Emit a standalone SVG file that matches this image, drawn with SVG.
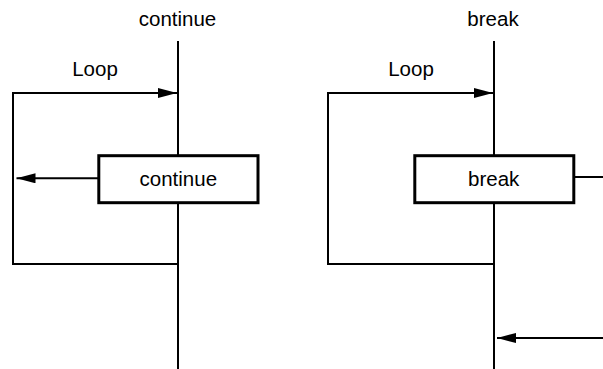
<svg xmlns="http://www.w3.org/2000/svg" width="603" height="369" viewBox="0 0 603 369">
<style>
.ln{stroke:#000;stroke-width:2;fill:none}
.box{stroke:#000;stroke-width:3;fill:#fff}
.t{font-family:"Liberation Sans",Arial,sans-serif;font-size:20.5px;fill:#000;text-anchor:middle}
</style>
<defs>
<marker id="ah" markerUnits="userSpaceOnUse" markerWidth="20" markerHeight="10" refX="19" refY="5" orient="auto">
<path d="M0,0 L19,5 L0,10 z" fill="#000"/>
</marker>
</defs>
<rect width="603" height="369" fill="#fff"/>
<g id="connectors">
<line class="ln" x1="178" y1="41" x2="178" y2="155"/>
<line class="ln" x1="178" y1="203" x2="178" y2="369"/>
<polyline class="ln" points="178,264 13,264 13,93 177,93" marker-end="url(#ah)"/>
<line class="ln" x1="100" y1="178.3" x2="16.5" y2="178.3" marker-end="url(#ah)"/>
<line class="ln" x1="494" y1="41" x2="494" y2="155"/>
<line class="ln" x1="494" y1="203" x2="494" y2="369"/>
<polyline class="ln" points="494,264 328,264 328,93 493,93" marker-end="url(#ah)"/>
<line class="ln" x1="572" y1="177" x2="603" y2="177"/>
<line class="ln" x1="603" y1="338" x2="497" y2="338" marker-end="url(#ah)"/>
</g>
<g id="title-continue"><text class="t" x="177.5" y="25.7">continue</text></g>
<g id="loop-left"><text class="t" x="95" y="75.7">Loop</text></g>
<g id="box-continue">
<rect class="box" x="98.8" y="155.7" width="159.2" height="47"/>
<text class="t" x="178.3" y="185.7">continue</text>
</g>
<g id="title-break"><text class="t" x="493" y="25.7">break</text></g>
<g id="loop-right"><text class="t" x="411" y="75.7">Loop</text></g>
<g id="box-break">
<rect class="box" x="414.8" y="155.7" width="159" height="47"/>
<text class="t" x="493.7" y="185.7">break</text>
</g>
</svg>
